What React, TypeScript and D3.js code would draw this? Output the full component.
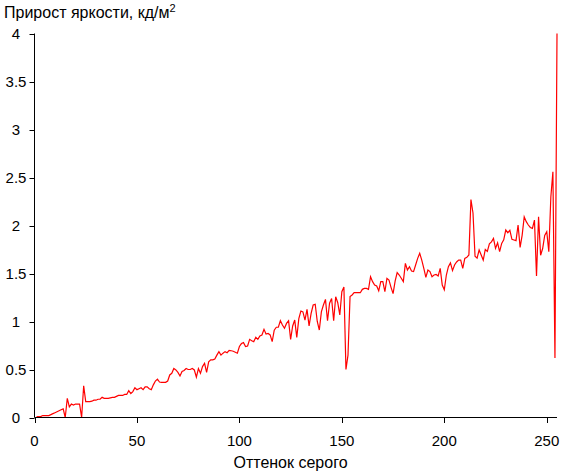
import React from "react";
import * as d3 from "d3";

const grayLevels: number[] = d3.range(1, 256);
const increments: number[] = [
  0.01, 0.01, 0.01, 0.02, 0.02, 0.02, 0.02, 0.03, 0.04, 0.05,
  0.06, 0.07, 0.08, 0.09, 0.0, 0.2, 0.11, 0.14, 0.13, 0.14,
  0.14, 0.14, 0.0, 0.33, 0.165, 0.165, 0.165, 0.17, 0.18, 0.18,
  0.19, 0.19, 0.21, 0.2, 0.2, 0.2, 0.205, 0.21, 0.21, 0.22,
  0.23, 0.23, 0.23, 0.24, 0.24, 0.28, 0.25, 0.27, 0.31, 0.29,
  0.3, 0.31, 0.29, 0.32, 0.32, 0.3, 0.29, 0.34, 0.38, 0.4,
  0.37, 0.366, 0.366, 0.366, 0.38, 0.443, 0.46, 0.51, 0.495, 0.47,
  0.433, 0.48, 0.49, 0.51, 0.5, 0.5, 0.51, 0.495, 0.42, 0.51,
  0.46, 0.53, 0.565, 0.47, 0.58, 0.6, 0.6, 0.61, 0.65, 0.686,
  0.65, 0.67, 0.686, 0.675, 0.7, 0.695, 0.69, 0.68, 0.67, 0.74,
  0.77, 0.78, 0.74, 0.745, 0.814, 0.8, 0.79, 0.835, 0.814, 0.85,
  0.86, 0.918, 0.87, 0.876, 0.86, 0.79, 0.91, 0.94, 0.94, 1.008,
  0.963, 0.929, 0.98, 1.008, 0.814, 0.953, 1.015, 0.835, 1.03, 1.109,
  1.1, 1.015, 1.127, 0.953, 1.085, 1.172, 1.18, 1.0, 0.911, 1.1,
  1.172, 1.23, 1.008, 1.19, 1.24, 1.008, 1.258, 1.196, 1.068, 1.31,
  1.36, 0.5, 0.65, 1.26, 1.276, 1.3, 1.3, 1.3, 1.3, 1.335,
  1.345, 1.345, 1.335, 1.467, 1.415, 1.38, 1.37, 1.32, 1.415, 1.415,
  1.31, 1.45, 1.432, 1.356, 1.29, 1.42, 1.509, 1.484, 1.45, 1.415,
  1.606, 1.536, 1.571, 1.526, 1.52, 1.589, 1.658, 1.71, 1.64, 1.554,
  1.46, 1.536, 1.52, 1.467, 1.484, 1.49, 1.474, 1.554, 1.38, 1.33,
  1.484, 1.571, 1.61, 1.53, 1.589, 1.62, 1.64, 1.64, 1.554, 1.658,
  1.668, 1.693, 2.27, 2.13, 1.68, 1.66, 1.745, 1.693, 1.64, 1.75,
  1.73, 1.81, 1.83, 1.866, 1.762, 1.82, 1.727, 1.814, 1.85, 1.953,
  1.925, 1.95, 1.856, 1.849, 1.842, 2.005, 1.772, 1.9, 2.09, 2.04,
  2.005, 1.98, 1.97, 2.057, 1.474, 2.09, 1.69, 1.76, 1.897, 1.936,
  1.727, 2.3, 2.56, 0.62, 4.0,
];
const xTicks: number[] = [0, 50, 100, 150, 200, 250];
const yTicks: number[] = [0, 0.5, 1, 1.5, 2, 2.5, 3, 3.5, 4];
const yTickLabels: string[] = ["0", "0.5", "1", "1.5", "2", "2.5", "3", "3.5", "4"];
const titleText = "Прирост яркости, кд/м";
const xTitle = "Оттенок серого";

const W = 561;
const H = 471;

export default function App() {
  const x = d3.scaleLinear().domain([0, 255]).range([34.5, 557]);
  const y = d3.scaleLinear().domain([0, 4]).range([417.5, 33.5]);
  const line = d3
    .line<number>()
    .x((_, i) => x(grayLevels[i]))
    .y((d) => y(d));
  const font = "'Liberation Sans', Arial, sans-serif";
  return (
    <svg
      width={W}
      height={H}
      style={{ position: "absolute", left: 0, top: 0, background: "#fff" }}
      fontFamily={font}
    >
      <rect x={0} y={0} width={W} height={H} fill="#fff" />
      <text x={4} y={18} fontSize={16} fill="#000">
        {titleText}
        <tspan fontSize={11} dy={-6}>2</tspan>
      </text>
      <path
        d={line(increments) || ""}
        fill="none"
        stroke="#ff0000"
        strokeWidth={1.2}
        strokeLinejoin="miter"
      />
      <line x1={34.5} x2={34.5} y1={y(4)} y2={y(0)} stroke="#000" strokeWidth={1} />
      <line x1={34.5} x2={557} y1={417.5} y2={417.5} stroke="#000" strokeWidth={1} />
      {yTicks.map((t, i) => (
        <g key={"y" + t}>
          <line x1={29.5} x2={34.5} y1={Math.round(y(t)) + 0.5} y2={Math.round(y(t)) + 0.5} stroke="#000" />
          <text x={16} y={y(t) + 5} fontSize={15} textAnchor="middle" fill="#000">
            {yTickLabels[i]}
          </text>
        </g>
      ))}
      {xTicks.map((t) => (
        <g key={"x" + t}>
          <line x1={Math.round(x(t)) + 0.5} x2={Math.round(x(t)) + 0.5} y1={417.5} y2={423} stroke="#000" />
          <text x={x(t)} y={446} fontSize={15} textAnchor="middle" fill="#000">
            {t}
          </text>
        </g>
      ))}
      <text x={290.5} y={468} fontSize={16} textAnchor="middle" fill="#000">
        {xTitle}
      </text>
    </svg>
  );
}
